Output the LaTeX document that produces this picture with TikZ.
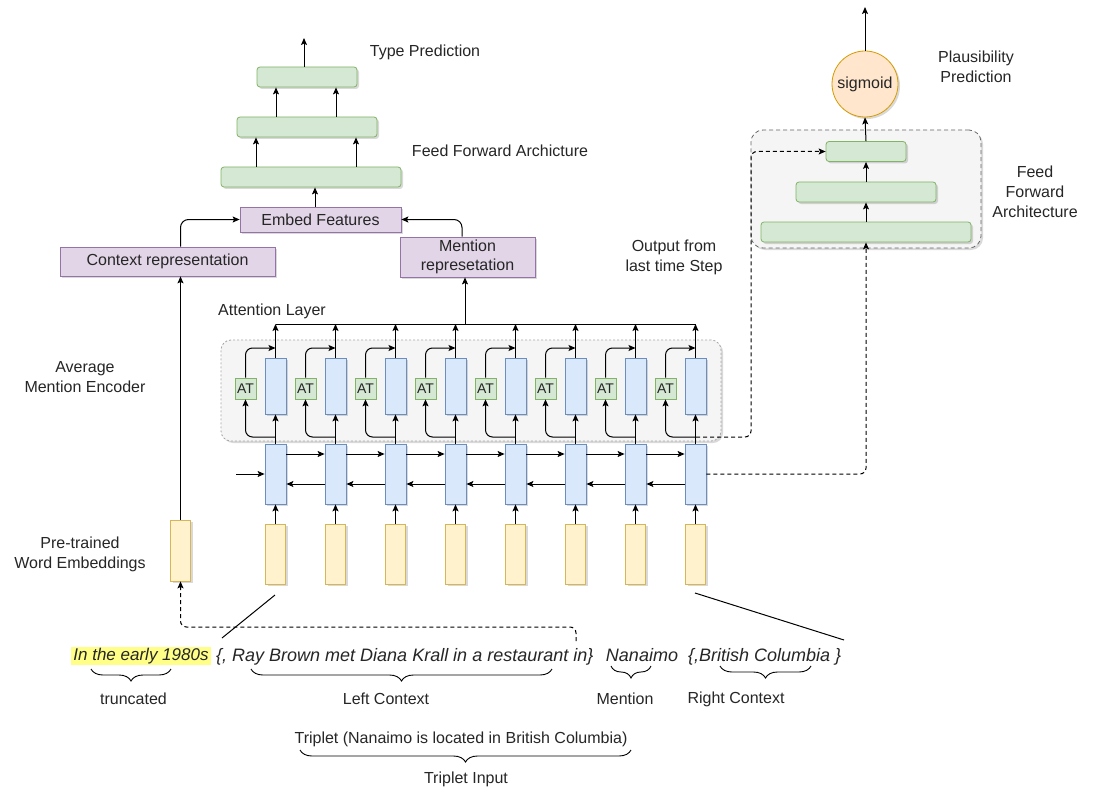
\documentclass[tikz,border=0pt]{standalone}
\usepackage{fontspec}
\setmainfont{Liberation Sans}
\usetikzlibrary{arrows.meta,decorations.pathreplacing,shadows}
\definecolor{gfill}{HTML}{D5E8D4}
\definecolor{gdraw}{HTML}{82B366}
\definecolor{pfill}{HTML}{E1D5E7}
\definecolor{pdraw}{HTML}{9673A6}
\definecolor{bfill}{HTML}{DAE8FC}
\definecolor{bdraw}{HTML}{6C8EBF}
\definecolor{yfill}{HTML}{FFF2CC}
\definecolor{ydraw}{HTML}{D6B656}
\definecolor{ofill}{HTML}{FFE6CC}
\definecolor{odraw}{HTML}{D79B00}
\definecolor{cfill}{HTML}{F5F5F5}
\definecolor{cdraw}{HTML}{666666}
\definecolor{hl}{HTML}{FFFF88}
\definecolor{txt}{HTML}{262626}
\begin{document}
\begin{tikzpicture}[x=1pt,y=-1pt, font=\fontsize{16}{20}\selectfont, text=txt,
  arr/.style={-{Stealth[length=7pt,width=6pt,inset=1.5pt]}, line width=1pt},
  plain/.style={line width=1pt},
  sh/.style={drop shadow={shadow xshift=2pt,shadow yshift=-2pt,opacity=0.15,fill=black}},
  gbox/.style={draw=gdraw, fill=gfill, rounded corners=3pt, inner sep=0pt, minimum height=20pt, line width=0.8pt, sh},
  pbox/.style={draw=pdraw, fill=pfill, inner sep=0pt, line width=0.8pt, sh, align=center},
  bbox/.style={draw=bdraw, fill=bfill, inner sep=0pt, minimum width=21pt, line width=0.8pt, sh},
  ybox/.style={draw=ydraw, fill=yfill, inner sep=0pt, minimum width=20pt, minimum height=60pt, line width=0.8pt, sh},
  atbox/.style={draw=gdraw, fill=gfill, inner sep=0pt, minimum width=21pt, minimum height=21pt, font=\fontsize{14}{16}\selectfont, line width=0.8pt},
  contA/.style={draw=black!35, fill=cfill, rounded corners=10pt, dash pattern=on 2pt off 2pt, inner sep=0pt, line width=0.8pt, sh},
  contB/.style={draw=cdraw, fill=cfill, rounded corners=12pt, dash pattern=on 4pt off 3pt, inner sep=0pt, line width=0.8pt, sh},
  lbl/.style={align=center, inner sep=0pt},
  dsh/.style={dash pattern=on 4pt off 3pt},
  br/.style={decorate, decoration={brace, mirror, amplitude=12pt}, line width=0.9pt},
  itl/.style={inner sep=0pt, font=\fontsize{18}{20}\selectfont\itshape},
]
\useasboundingbox (0,0) rectangle (1102,805);
\fill[white] (0,0) rectangle (1102,805);

% containers
\node[contA, minimum width=500pt, minimum height=101pt] (attbox) at (471,390.5) {};
\node[contB, minimum width=230pt, minimum height=118pt] (plbox) at (866,189) {};

% type prediction stack
\node[gbox, minimum width=100pt] (ft) at (307,77) {};
\node[gbox, minimum width=140pt] (fm) at (307,127) {};
\node[gbox, minimum width=180pt] (fb) at (311,177) {};
\node[pbox, minimum width=161pt, minimum height=25pt] (emb) at (320.5,219.5) {Embed Features};
\node[pbox, minimum width=215pt, minimum height=29pt] (ctx) at (167.5,261.5) {Context representation};
\node[pbox, minimum width=135pt, minimum height=40pt, font=\fontsize{16}{19.5}\selectfont] (men) at (467.5,257) {Mention\\represetation};

% plausibility
\node[circle, draw=odraw, fill=ofill, minimum size=66pt, inner sep=0pt, line width=0.8pt, sh] (sig) at (865,84) {sigmoid};
\node[gbox, minimum width=80pt] (pt) at (866,151.5) {};
\node[gbox, minimum width=140pt] (pm) at (866,192) {};
\node[gbox, minimum width=210pt] (pb) at (866,232) {};

% left embedding
\node[ybox, minimum height=61pt] (ye) at (180.5,550.5) {};

% columns
\foreach \i in {0,...,7}{
  \pgfmathsetmacro{\cx}{275.5+60*\i}
  \node[bbox, minimum height=56pt] (a\i) at (\cx,386) {};
  \node[bbox, minimum height=60pt] (l\i) at (\cx,474) {};
  \node[ybox] (y\i) at (\cx,554) {};
  \node[atbox] (t\i) at (\cx-30,388.5) {AT};
  \coordinate (j\i) at (\cx,437);
  \coordinate (k\i) at (\cx,348);
  \coordinate (h\i) at (\cx,324);
  \draw[arr] (y\i.north) -- (l\i.south);
  \draw[arr] (l\i.north) -- (a\i.south);
  \draw[arr, rounded corners=7pt] (j\i) -| (t\i.south);
  \draw[arr, rounded corners=7pt] (t\i.north) |- (k\i);
  \draw[arr] (a\i.north) -- (h\i);
}
\draw[plain] (h0) -- (h7);
\coordinate (hm) at (465,324);
\draw[arr] (hm) -- (hm |- men.south);

\coordinate (fy) at (0,454);
\coordinate (by) at (0,484);
\foreach \i [evaluate=\i as \j using int(\i+1)] in {0,...,6}{
  \draw[arr] (l\i.east |- fy) -- (l\j.west |- fy);
  \draw[arr] (l\j.west |- by) -- (l\i.east |- by);
}
\coordinate (in0) at (236,474);
\draw[arr] (in0) -- (l0.west);

% dashed connectors
\coordinate (oa) at (696,437);
\coordinate (ob) at (751,437);
\draw[arr, dsh, rounded corners=6pt] (oa) -- (ob) |- (pt.west);
\draw[arr, dsh, rounded corners=6pt] (l7.east) -| (pb.south);
\coordinate (ds) at (576,641);
\coordinate (dc) at (576,627);
\draw[arr, dsh, rounded corners=6pt] (ds) -- (dc) -| (ye.south);

% upper connectors
\draw[arr] (ye.north) -- (ye.north |- ctx.south);
\draw[arr, rounded corners=8pt] (ye.north |- ctx.north) |- (emb.west);
\draw[arr, rounded corners=8pt] ([xshift=-5.5pt]men.north) |- (emb.east);
\draw[arr] ([xshift=-5.5pt]emb.north) -- ([xshift=-5.5pt]emb.north |- fb.south);
\draw[arr] ([xshift=-55pt]fb.north) -- ([xshift=-55pt]fb.north |- fm.south);
\draw[arr] ([xshift=45pt]fb.north) -- ([xshift=45pt]fb.north |- fm.south);
\draw[arr] ([xshift=-31pt]fm.north) -- ([xshift=-31pt]fm.north |- ft.south);
\draw[arr] ([xshift=29pt]fm.north) -- ([xshift=29pt]fm.north |- ft.south);
\coordinate (tp) at (304,38);
\draw[arr] (tp |- ft.north) -- (tp);

\draw[arr] (pb.north) -- (pm.south);
\draw[arr] (pm.north) -- (pt.south);
\draw[arr] (pt.north) -- (sig.south);
\coordinate (sp) at (865,7);
\draw[arr] (sig.north) -- (sp);

% diagonal pointers
\coordinate (g1) at (275,595);
\coordinate (g2) at (222,638);
\coordinate (g3) at (695,593);
\coordinate (g4) at (844,640);
\draw[plain] (g1) -- (g2);
\draw[plain] (g3) -- (g4);

% labels
\node[lbl] (tTP) at (425,52) {Type Prediction};
\node[lbl] (tFF) at (500,151) {Feed Forward Archicture};
\node[lbl] (tPP) at (976,67) {Plausibility\\Prediction};
\node[lbl] (tFA) at (1035,192) {Feed\\Forward\\Architecture};
\node[lbl] (tOL) at (674,257) {Output from\\last time Step};
\node[lbl, anchor=west] (tAL) at (218,311) {Attention Layer};
\node[lbl] (tAM) at (85,377) {Average\\Mention Encoder};
\node[lbl] (tPW) at (80,554) {Pre-trained\\Word Embeddings};

% sentence
\node[fill=hl, inner xsep=2pt, inner ysep=1pt, text height=12.5pt, text depth=3.5pt, anchor=base, font=\fontsize{17}{19}\selectfont\itshape] (s1) at (141,660) {In the early 1980s};
\node[itl, anchor=base west] (s2) at (216,661) {\{, Ray Brown met Diana Krall in a restaurant in\}};
\node[itl, anchor=base] (s3) at (642,661) {Nanaimo};
\node[itl, anchor=base west] (s4) at (688,661) {\{,British Columbia \}};

% braces
\coordinate (b1a) at (91,669); \coordinate (b1b) at (171,669);
\coordinate (b2a) at (251,669); \coordinate (b2b) at (552,669);
\coordinate (b3a) at (611,666); \coordinate (b3b) at (651,666);
\coordinate (b4a) at (720,666); \coordinate (b4b) at (811,666);
\coordinate (b5a) at (300,750); \coordinate (b5b) at (631,750);
\draw[br] (b1a) -- (b1b);
\draw[br] (b2a) -- (b2b);
\draw[br] (b3a) -- (b3b);
\draw[br] (b4a) -- (b4b);
\draw[br] (b5a) -- (b5b);
\node[lbl] (lTr) at (133.5,699) {truncated};
\node[lbl] (lLC) at (386,699) {Left Context};
\node[lbl] (lMe) at (625,699) {Mention};
\node[lbl] (lRC) at (736,699) {Right Context};
\node[lbl] (lTp) at (461,739) {Triplet (Nanaimo is located in British Columbia)};
\node[lbl] (lTI) at (466,779) {Triplet Input};
\end{tikzpicture}
\end{document}
